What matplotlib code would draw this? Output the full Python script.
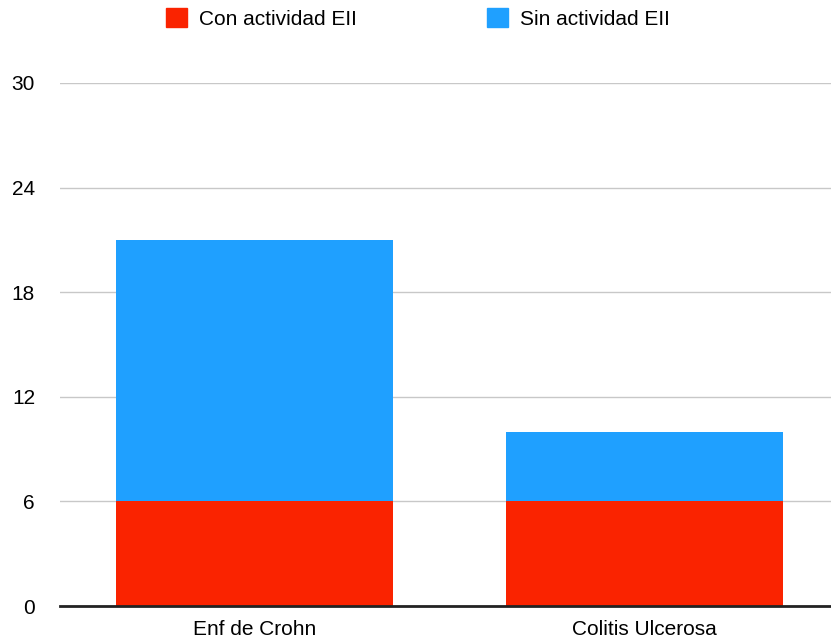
import matplotlib.pyplot as plt
from matplotlib.patches import Patch

plt.rcParams['font.family'] = ['Liberation Sans', 'DejaVu Sans']

categorias = ["Enf de Crohn", "Colitis Ulcerosa"]
con_actividad = [6, 6]
sin_actividad = [15, 4]
yticks = [0, 6, 12, 18, 24, 30]

rojo = '#FA2300'
azul = '#1FA0FF'

fig = plt.figure(figsize=(8.31, 6.44), dpi=100)
# el eje sigue un poco más allá del borde derecho, como en el original
ax = fig.add_axes([60 / 831, 1 - 606 / 644, 779 / 831, (606 - 83) / 644])

x = range(len(categorias))
ax.bar(x, con_actividad, width=0.712, color=rojo, zorder=3)
ax.bar(x, sin_actividad, width=0.712, bottom=con_actividad, color=azul, zorder=3)

ax.set_xlim(-0.5, 1.5)
ax.set_ylim(0, 30)
ax.set_yticks(yticks)
ax.set_yticklabels([str(t) for t in yticks])
ax.set_xticks(list(x))
ax.set_xticklabels(categorias)
ax.tick_params(axis='y', length=0, pad=18, labelsize=15)
ax.tick_params(axis='x', length=0, pad=10, labelsize=15)
ax.grid(axis='y', color='#c8c8c8', linewidth=1, zorder=0)
for s in ['top', 'right', 'left']:
    ax.spines[s].set_visible(False)
ax.spines['bottom'].set_linewidth(2)
ax.spines['bottom'].set_color('#222222')
ax.spines['bottom'].set_zorder(4)

handles = [Patch(color=rojo, label="Con actividad EII"),
           Patch(color=azul, label="Sin actividad EII")]
fig.legend(handles=handles, loc='upper center', bbox_to_anchor=(0.503, 1.0),
           ncol=2, frameon=False, fontsize=15, handlelength=1.0,
           handleheight=1.0, handletextpad=0.6, columnspacing=6.25,
           borderaxespad=0.0)

fig.savefig('out.png', dpi=100)
